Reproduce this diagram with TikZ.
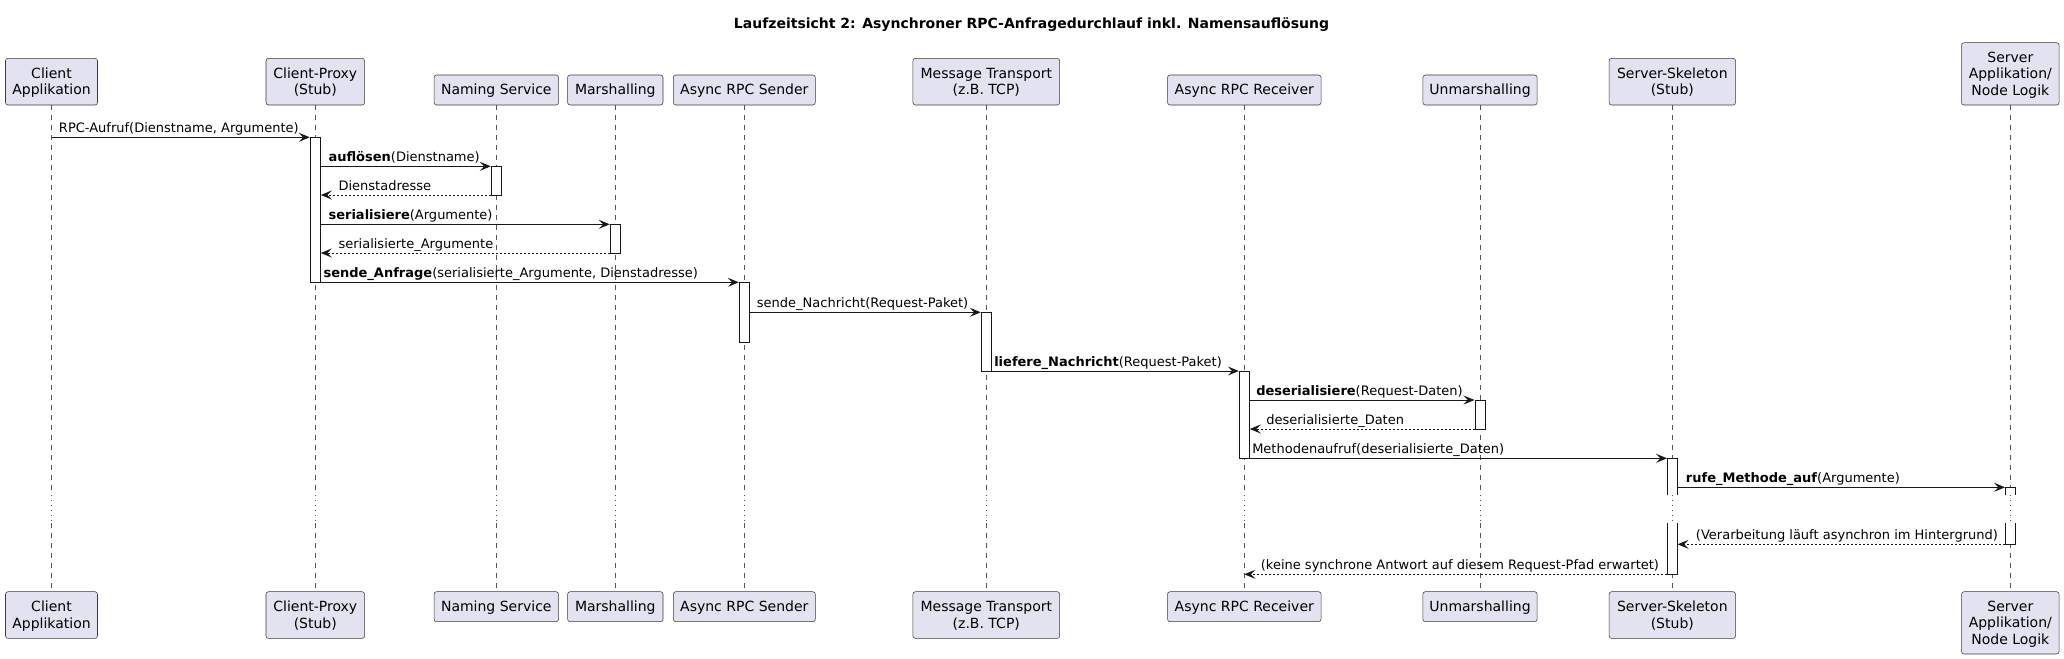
\documentclass[tikz,border=0pt]{standalone}
\usepackage{fontspec}
\setmainfont{DejaVu Sans}
\usetikzlibrary{arrows.meta,fit}
\definecolor{pfill}{HTML}{E2E2F0}
\definecolor{pline}{HTML}{181818}
\definecolor{lline}{HTML}{555555}
\tikzset{
  part/.style={draw=pline!85, fill=pfill, line width=0.4pt, rounded corners=1.9pt, inner sep=0pt},
  ptext/.style={font=\fontsize{10.5}{12.2}\selectfont, align=center, inner sep=0pt, text=black, yshift=-1.3pt},
  lifeline/.style={draw=lline, line width=0.45pt, dash pattern=on 3.75pt off 3.75pt},
  delayline/.style={draw=lline, line width=0.45pt, dash pattern=on 0.75pt off 3pt},
  actbox/.style={draw=pline, fill=white, line width=0.75pt, inner sep=0pt},
  actopen/.style={draw=none, fill=white, inner sep=0pt},
  actedge/.style={draw=pline, line width=0.75pt},
  msg/.style={draw=pline, line width=0.75pt, -{Stealth[length=8.25pt,width=6.75pt,inset=3.3pt]}},
  ret/.style={msg, dash pattern=on 1.5pt off 1.5pt},
  lbl/.style={font=\fontsize{9.75}{11.7}\selectfont, anchor=base west, inner sep=0pt, text=black},
  ttl/.style={font=\fontsize{10.5}{12.6}\selectfont\bfseries, inner sep=0pt, anchor=base, text=black},
}
\begin{document}
\begin{tikzpicture}[x=0.75pt,y=-0.75pt]
\fill[white] (0,0) rectangle (2064,658);
\useasboundingbox (0,0) rectangle (2064,658);

\node[ttl] (title) at (1031.5,28.5) {Laufzeitsicht 2: Asynchroner RPC-Anfragedurchlauf inkl. Namensauflösung};

% rows
\coordinate (d1) at (0,495);
\coordinate (d2) at (0,523.3);
\coordinate (y1) at (0,137.3);
\coordinate (y2) at (0,166.3);
\coordinate (y3) at (0,195);
\coordinate (y4) at (0,224.3);
\coordinate (y5) at (0,253);
\coordinate (y6) at (0,282.3);
\coordinate (y7) at (0,312.3);
\coordinate (y8) at (0,371);
\coordinate (y9) at (0,400);
\coordinate (y10) at (0,429);
\coordinate (y11) at (0,458.3);
\coordinate (y12) at (0,487.3);
\coordinate (y13) at (0,544.3);
\coordinate (y14) at (0,574.3);

% participants top
\node[part, fit={(5.5,58.3)(97.5,105)}] (cT) {};
\node[ptext] (cTt) at (cT.center) {\strut Client\\\strut Applikation};
\node[part, fit={(266,58.3)(364.6,105)}] (pT) {};
\node[ptext] (pTt) at (pT.center) {\strut Client-Proxy\\\strut (Stub)};
\node[part, fit={(434.05,75)(558.55,105)}] (nT) {};
\node[ptext] (nTt) at (nT.center) {\strut Naming Service};
\node[part, fit={(567.6,75)(663,105)}] (mT) {};
\node[ptext] (mTt) at (mT.center) {\strut Marshalling};
\node[part, fit={(673.3,75)(815.3,105)}] (sT) {};
\node[ptext] (sTt) at (sT.center) {\strut Async RPC Sender};
\node[part, fit={(912.9,58.3)(1059.7,105)}] (tT) {};
\node[ptext] (tTt) at (tT.center) {\strut Message Transport\\\strut (z.B. TCP)};
\node[part, fit={(1167.55,75)(1321.05,105)}] (rT) {};
\node[ptext] (rTt) at (rT.center) {\strut Async RPC Receiver};
\node[part, fit={(1422.85,75)(1537.15,105)}] (uT) {};
\node[ptext] (uTt) at (uT.center) {\strut Unmarshalling};
\node[part, fit={(1609.1,58.3)(1735.5,105)}] (kT) {};
\node[ptext] (kTt) at (kT.center) {\strut Server-Skeleton\\\strut (Stub)};
\node[part, fit={(1961.5,42.7)(2059.1,105)}] (aT) {};
\node[ptext] (aTt) at (aT.center) {\strut Server\\\strut Applikation/\\\strut Node Logik};

% participants bottom
\node[part, fit={(5.5,591.7)(97.5,638.4)}] (cB) {};
\node[ptext] (cBt) at (cB.center) {\strut Client\\\strut Applikation};
\node[part, fit={(266,591.7)(364.6,638.4)}] (pB) {};
\node[ptext] (pBt) at (pB.center) {\strut Client-Proxy\\\strut (Stub)};
\node[part, fit={(434.05,591.7)(558.55,621.7)}] (nB) {};
\node[ptext] (nBt) at (nB.center) {\strut Naming Service};
\node[part, fit={(567.6,591.7)(663,621.7)}] (mB) {};
\node[ptext] (mBt) at (mB.center) {\strut Marshalling};
\node[part, fit={(673.3,591.7)(815.3,621.7)}] (sB) {};
\node[ptext] (sBt) at (sB.center) {\strut Async RPC Sender};
\node[part, fit={(912.9,591.7)(1059.7,638.4)}] (tB) {};
\node[ptext] (tBt) at (tB.center) {\strut Message Transport\\\strut (z.B. TCP)};
\node[part, fit={(1167.55,591.7)(1321.05,621.7)}] (rB) {};
\node[ptext] (rBt) at (rB.center) {\strut Async RPC Receiver};
\node[part, fit={(1422.85,591.7)(1537.15,621.7)}] (uB) {};
\node[ptext] (uBt) at (uB.center) {\strut Unmarshalling};
\node[part, fit={(1609.1,591.7)(1735.5,638.4)}] (kB) {};
\node[ptext] (kBt) at (kB.center) {\strut Server-Skeleton\\\strut (Stub)};
\node[part, fit={(1961.5,591.7)(2059.1,654)}] (aB) {};
\node[ptext] (aBt) at (aB.center) {\strut Server\\\strut Applikation/\\\strut Node Logik};

% lifelines
\foreach \n in {c,p,n,m,s,t,r,u,k,a} {
  \draw[lifeline] (\n T.south) -- (\n T.south |- d1);
  \draw[delayline] (\n T.south |- d1) -- (\n T.south |- d2);
  \draw[lifeline] (\n T.south |- d2) -- (\n B.north);
}

% activations
\node[actbox, fit={(310.3,137.3)(320.3,282.3)}] (aP) {};
\node[actbox, fit={(491.3,166.3)(501.3,195)}] (aN) {};
\node[actbox, fit={(610.3,224.3)(620.3,253)}] (aM) {};
\node[actbox, fit={(739.3,282.3)(749.3,342.3)}] (aS) {};
\node[actbox, fit={(981.3,312.3)(991.3,371)}] (aTr) {};
\node[actbox, fit={(1239.3,371)(1249.3,458.3)}] (aR) {};
\node[actbox, fit={(1475,400)(1485,429)}] (aU) {};
\node[actopen, fit={(1667.3,458.3)(1677.3,495)}] (aK1) {};
\node[actopen, fit={(1667.3,523.3)(1677.3,574.3)}] (aK2) {};
\node[actopen, fit={(2005.3,487.3)(2015.3,495)}] (aA1) {};
\node[actopen, fit={(2005.3,523.3)(2015.3,544.3)}] (aA2) {};
\draw[delayline] (kT.south |- aK1.south) -- (kT.south |- aK2.north);
\draw[delayline] (aT.south |- aA1.south) -- (aT.south |- aA2.north);
\draw[actedge] (aK1.south west) -- (aK1.north west) -- (aK1.north east) -- (aK1.south east);
\draw[actedge] (aK2.north west) -- (aK2.south west) -- (aK2.south east) -- (aK2.north east);
\draw[actedge] (aA1.south west) -- (aA1.north west) -- (aA1.north east) -- (aA1.south east);
\draw[actedge] (aA2.north west) -- (aA2.south west) -- (aA2.south east) -- (aA2.north east);

% messages
\draw[msg] (cT.south |- y1) -- (aP.west |- y1);
\draw[msg] (aP.east |- y2) -- (aN.west |- y2);
\draw[ret] (aN.west |- y3) -- (aP.east |- y3);
\draw[msg] (aP.east |- y4) -- (aM.west |- y4);
\draw[ret] (aM.west |- y5) -- (aP.east |- y5);
\draw[msg] (aP.east |- y6) -- (aS.west |- y6);
\draw[msg] (aS.east |- y7) -- (aTr.west |- y7);
\draw[msg] (aTr.east |- y8) -- (aR.west |- y8);
\draw[msg] (aR.east |- y9) -- (aU.west |- y9);
\draw[ret] (aU.west |- y10) -- (aR.east |- y10);
\draw[msg] (aR.east |- y11) -- (aK1.west |- y11);
\draw[msg] (aK1.east |- y12) -- (aA1.west |- y12);
\draw[ret] (aA2.west |- y13) -- (aK2.east |- y13);
\draw[ret] (aK2.west |- y14) -- (rT.south |- y14);

% labels
\node[lbl] (l1) at (58.7,132.6) {RPC-Aufruf(Dienstname, Argumente)};
\node[lbl] (l2) at (328.3,161.6) {\textbf{auflösen}(Dienstname)};
\node[lbl] (l3) at (338.3,190.3) {Dienstadresse};
\node[lbl] (l4) at (328.3,219.6) {\textbf{serialisiere}(Argumente)};
\node[lbl] (l5) at (338.3,248.3) {serialisierte\_Argumente};
\node[lbl] (l6) at (323.3,277.6) {\textbf{sende\_Anfrage}(serialisierte\_Argumente, Dienstadresse)};
\node[lbl] (l7) at (756.7,307.6) {sende\_Nachricht(Request-Paket)};
\node[lbl] (l8) at (994,366.3) {\textbf{liefere\_Nachricht}(Request-Paket)};
\node[lbl] (l9) at (1256,395.3) {\textbf{deserialisiere}(Request-Daten)};
\node[lbl] (l10) at (1266,424.3) {deserialisierte\_Daten};
\node[lbl] (l11) at (1252,453.6) {Methodenaufruf(deserialisierte\_Daten)};
\node[lbl] (l12) at (1685.7,482.6) {\textbf{rufe\_Methode\_auf}(Argumente)};
\node[lbl] (l13) at (1695.7,539.6) {(Verarbeitung läuft asynchron im Hintergrund)};
\node[lbl] (l14) at (1260.6,569.6) {(keine synchrone Antwort auf diesem Request-Pfad erwartet)};
\end{tikzpicture}
\end{document}
